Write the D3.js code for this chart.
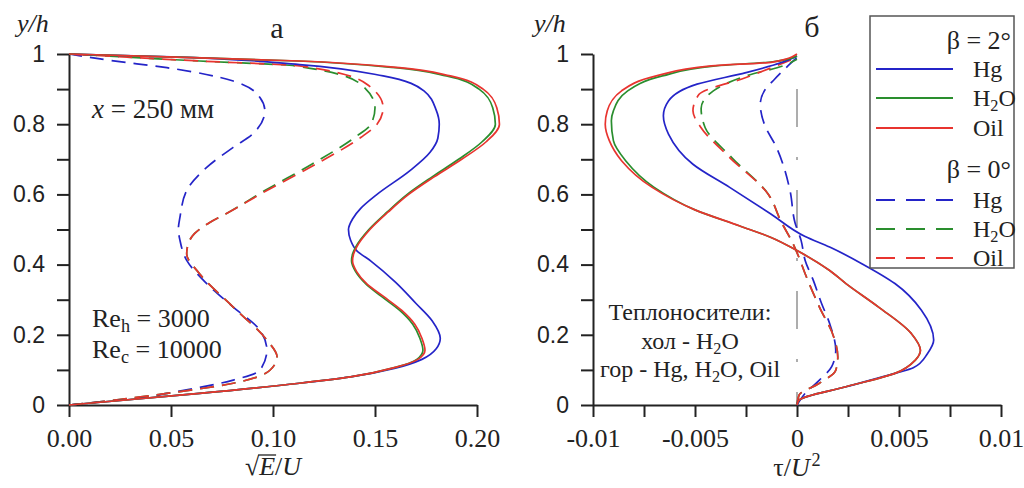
<!DOCTYPE html>
<html>
<head>
<meta charset="utf-8">
<script src="https://cdn.jsdelivr.net/npm/d3@7"></script>
<style>
  body { margin: 0; background: #fff; }
  svg { display: block; }
  .serif { font-family: "Liberation Serif", "Times New Roman", serif; }
  .sans { font-family: "Liberation Sans", Arial, sans-serif; }
</style>
</head>
<body>
<div id="chart"></div>
<script>
// ---- data: [value, y/h] ----
// panel a: sqrt(E)/U
const eHg2 = [[0,0],[0.064,0.033],[0.113,0.062],[0.138,0.080],[0.160,0.105],[0.173,0.13],[0.180,0.16],[0.182,0.19],[0.178,0.24],[0.170,0.29],[0.160,0.35],[0.148,0.41],[0.141,0.44],[0.138,0.47],[0.137,0.50],[0.139,0.53],[0.143,0.56],[0.151,0.60],[0.167,0.667],[0.177,0.72],[0.1808,0.76],[0.1815,0.80],[0.180,0.84],[0.174,0.895],[0.154,0.9375],[0.113,0.97],[0.05,0.992],[0,1]];
const eH2O2 = [[0,0],[0.064,0.033],[0.113,0.062],[0.138,0.080],[0.160,0.107],[0.1705,0.13],[0.1735,0.156],[0.172,0.19],[0.1685,0.23],[0.162,0.27],[0.153,0.31],[0.1455,0.345],[0.1405,0.38],[0.1385,0.41],[0.139,0.43],[0.1405,0.45],[0.147,0.50],[0.156,0.55],[0.1658,0.60],[0.178,0.65],[0.191,0.70],[0.2025,0.75],[0.209,0.80],[0.2077,0.847],[0.201,0.90],[0.185,0.9375],[0.160,0.961],[0.112,0.98],[0.048,0.992],[0,1]];
const eOil2 = [[0,0],[0.064,0.033],[0.113,0.062],[0.138,0.080],[0.160,0.107],[0.171,0.13],[0.1745,0.156],[0.173,0.19],[0.1695,0.23],[0.163,0.27],[0.154,0.31],[0.146,0.345],[0.141,0.38],[0.139,0.41],[0.1395,0.43],[0.141,0.45],[0.1475,0.50],[0.1565,0.55],[0.1665,0.60],[0.179,0.65],[0.1925,0.70],[0.2045,0.75],[0.211,0.80],[0.2097,0.847],[0.203,0.90],[0.187,0.9375],[0.162,0.961],[0.113,0.98],[0.048,0.992],[0,1]];
const eHg0 = [[0,0],[0.015,0.009],[0.035,0.02],[0.048,0.033],[0.0805,0.071],[0.0936,0.099],[0.097,0.156],[0.0936,0.213],[0.0805,0.279],[0.0675,0.346],[0.0577,0.412],[0.0544,0.469],[0.0536,0.50],[0.0544,0.535],[0.0577,0.611],[0.0675,0.677],[0.0805,0.734],[0.090,0.772],[0.096,0.838],[0.0936,0.876],[0.0805,0.923],[0.048,0.961],[0.020,0.982],[0,1]];
const eH2O0 = [[0,0],[0.015,0.009],[0.048,0.033],[0.0805,0.062],[0.0985,0.099],[0.102,0.137],[0.097,0.185],[0.0805,0.279],[0.064,0.374],[0.0577,0.431],[0.0585,0.46],[0.0615,0.488],[0.069,0.52],[0.077,0.545],[0.096,0.611],[0.119,0.686],[0.140,0.762],[0.148,0.80],[0.150,0.847],[0.143,0.914],[0.111,0.966],[0.064,0.98],[0,1]];
const eOil0 = [[0,0],[0.015,0.009],[0.048,0.033],[0.0805,0.062],[0.0985,0.099],[0.102,0.137],[0.097,0.185],[0.0805,0.279],[0.064,0.374],[0.0577,0.431],[0.0585,0.46],[0.0615,0.488],[0.069,0.52],[0.077,0.545],[0.097,0.611],[0.121,0.686],[0.143,0.762],[0.151,0.80],[0.154,0.847],[0.146,0.914],[0.113,0.966],[0.064,0.98],[0,1]];
// panel б: tau/U^2
const tHg2 = [[0,0],[0.0001,0.014],[0.0024,0.052],[0.0048,0.09],[0.0057,0.106],[0.0064,0.147],[0.0067,0.185],[0.0061,0.27],[0.0048,0.346],[0.0032,0.402],[0.0016,0.45],[0.0004,0.48],[-0.0013,0.545],[-0.0033,0.62],[-0.0051,0.686],[-0.0063,0.772],[-0.00655,0.824],[-0.0063,0.866],[-0.0049,0.914],[-0.0025,0.947],[-0.0008,0.975],[0,0.994]];
const tH2O2 = [[0,0],[0.0001,0.014],[0.0024,0.052],[0.0048,0.09],[0.0058,0.128],[0.00605,0.156],[0.0056,0.204],[0.0040,0.279],[0.0024,0.346],[0.0016,0.383],[0,0.44],[-0.0013,0.478],[-0.0028,0.51],[-0.005,0.556],[-0.0070,0.62],[-0.0084,0.696],[-0.0090,0.753],[-0.0091,0.81],[-0.0090,0.838],[-0.0083,0.895],[-0.0066,0.9375],[-0.0040,0.966],[-0.0012,0.978],[0,0.994]];
const tOil2 = [[0,0],[0.0001,0.014],[0.0024,0.052],[0.0048,0.09],[0.0058,0.128],[0.00605,0.156],[0.0056,0.204],[0.0040,0.279],[0.0024,0.346],[0.0016,0.383],[0,0.44],[-0.0013,0.478],[-0.0028,0.51],[-0.005,0.556],[-0.0071,0.62],[-0.0086,0.696],[-0.0092,0.753],[-0.0094,0.80],[-0.0093,0.838],[-0.0086,0.895],[-0.0069,0.9375],[-0.0042,0.966],[-0.0012,0.977],[0,1]];
const tHg0 = [[0,0],[0.0004,0.033],[0.0011,0.071],[0.0017,0.109],[0.0019,0.156],[0.0016,0.232],[0.0012,0.29],[0.0008,0.355],[0.0004,0.412],[0.0002,0.469],[-0.0001,0.52],[-0.00034,0.61],[-0.001,0.733],[-0.0016,0.80],[-0.0018,0.857],[-0.0016,0.895],[-0.0011,0.928],[0,0.99]];
const tH2O0 = [[0,0],[0.0001,0.028],[0.0011,0.062],[0.0019,0.099],[0.0020,0.137],[0.0018,0.194],[0.0011,0.279],[0.0004,0.374],[0.0001,0.42],[-0.0002,0.46],[-0.0008,0.525],[-0.0014,0.60],[-0.0032,0.705],[-0.0045,0.79],[-0.0047,0.845],[-0.0041,0.895],[-0.0025,0.9375],[-0.0007,0.966],[0,0.985]];
const tOil0 = [[0,0],[0.0001,0.028],[0.0011,0.062],[0.0019,0.099],[0.0020,0.137],[0.0018,0.194],[0.0011,0.279],[0.0004,0.374],[0.0001,0.42],[-0.0002,0.46],[-0.0008,0.525],[-0.0014,0.60],[-0.0033,0.705],[-0.0047,0.79],[-0.0051,0.838],[-0.0048,0.885],[-0.0025,0.933],[0,0.99]];

const fluids = ['Hg', 'H2O', 'Oil'];
const colors = ['#2424c8', '#2a8e2e', '#e8342f'];

const yMajor = [0, 0.2, 0.4, 0.6, 0.8, 1];
const yMajorLabels = ['0', '0.2', '0.4', '0.6', '0.8', '1'];
const yMinor = [0.1, 0.3, 0.5, 0.7, 0.9];
const eTicks = [0, 0.05, 0.1, 0.15, 0.2];
const eTickLabels = ['0.00', '0.05', '0.10', '0.15', '0.20'];
const tTicks = [-0.01, -0.0075, -0.005, -0.0025, 0, 0.0025, 0.005, 0.0075, 0.01];
const tTickLabels = ['-0.01', '', '-0.005', '', '0', '', '0.005', '', '0.01'];

// ---- layout ----
const W = 1024, H = 488;
const svg = d3.select('#chart').append('svg').attr('width', W).attr('height', H);

const y = d3.scaleLinear().domain([0, 1]).range([405, 54]);
const xE = d3.scaleLinear().domain([0, 0.2]).range([69, 477]);
const xT = d3.scaleLinear().domain([-0.01, 0.01]).range([593, 1001]);

// axes
function drawAxes(x, xTicks, xFmt, x0) {
  const gx = svg.append('g').attr('transform', `translate(0,${y(0)})`)
    .call(d3.axisBottom(x).tickValues(xTicks).tickFormat((d, i) => xFmt[i])
      .tickSize(12).tickSizeOuter(0).tickPadding(12));
  gx.selectAll('text').attr('class', 'serif').style('font-size', '26px').attr('fill', '#222');
  const gy = svg.append('g').attr('transform', `translate(${x0},0)`)
    .call(d3.axisLeft(y).tickValues(yMajor.concat(yMinor))
      .tickFormat(d => { const i = yMajor.indexOf(d); return i < 0 ? '' : yMajorLabels[i]; })
      .tickSize(12).tickSizeOuter(0).tickPadding(12));
  gy.selectAll('text').attr('class', 'sans').style('font-size', '23px').attr('fill', '#222');
  [gx, gy].forEach(g => {
    g.attr('font-family', null).attr('font-size', null);
    g.select('.domain').attr('stroke', '#222').attr('stroke-width', 2);
    g.selectAll('.tick line').attr('stroke', '#222').attr('stroke-width', 2);
  });
}
drawAxes(xE, eTicks, eTickLabels, xE(0));
drawAxes(xT, tTicks, tTickLabels, xT(-0.01));

// zero line on panel б
svg.append('line')
  .attr('x1', xT(0)).attr('x2', xT(0))
  .attr('y1', y(0.9)).attr('y2', y(0))
  .attr('stroke', '#777').attr('stroke-width', 1.2)
  .attr('stroke-dasharray', '38,30,3,30');

// curves: x is a function of y/h, so interpolate along y
function drawCurves(x, series) {
  const line = d3.line().x(d => x(d[0])).y(d => y(d[1])).curve(d3.curveMonotoneY);
  series.forEach(s => {
    svg.append('path').datum(s.data)
      .attr('d', line)
      .attr('fill', 'none')
      .attr('stroke', s.color)
      .attr('stroke-width', 1.7)
      .attr('stroke-dasharray', s.dash ? '14,8' : null);
  });
}
drawCurves(xE, [
  { data: eHg0, color: colors[0], dash: true },
  { data: eH2O0, color: colors[1], dash: true },
  { data: eOil0, color: colors[2], dash: true },
  { data: eHg2, color: colors[0] },
  { data: eH2O2, color: colors[1] },
  { data: eOil2, color: colors[2] }
]);
drawCurves(xT, [
  { data: tHg0, color: colors[0], dash: true },
  { data: tH2O0, color: colors[1], dash: true },
  { data: tOil0, color: colors[2], dash: true },
  { data: tHg2, color: colors[0] },
  { data: tH2O2, color: colors[1] },
  { data: tOil2, color: colors[2] }
]);

// text helper with subscript 2 in H2O
function fluidText(sel, name) {
  if (name === 'H2O') {
    sel.append('tspan').text('H');
    sel.append('tspan').text('2').style('font-size', '0.68em').attr('dy', '0.28em');
    sel.append('tspan').text('O').attr('dy', '-0.19em');
  } else {
    sel.append('tspan').text(name);
  }
}

// panel labels
svg.append('text').attr('class', 'serif').attr('x', 277).attr('y', 38)
  .attr('text-anchor', 'middle').style('font-size', '30px').attr('fill', '#222').text('а');
svg.append('text').attr('class', 'serif').attr('x', 812).attr('y', 37)
  .attr('text-anchor', 'middle').style('font-size', '30px').attr('fill', '#222').text('б');
[17, 534].forEach(xx => {
  svg.append('text').attr('class', 'serif').attr('x', xx).attr('y', 32)
    .style('font-size', '26px').style('font-style', 'italic').attr('fill', '#222').text('y/h');
});

// annotations panel a
const t1 = svg.append('text').attr('class', 'serif').attr('x', 92).attr('y', 118)
  .style('font-size', '27px').attr('fill', '#222');
t1.append('tspan').style('font-style', 'italic').text('x');
t1.append('tspan').text(' = 250 мм');

function reText(yy, sub, val) {
  const t = svg.append('text').attr('class', 'serif').attr('x', 92).attr('y', yy)
    .style('font-size', '26px').attr('fill', '#222');
  t.append('tspan').text('Re');
  t.append('tspan').text(sub).style('font-size', '0.7em').attr('dy', '0.28em');
  t.append('tspan').text(' = ' + val).attr('dy', '-0.2em');
}
reText(327, 'h', '3000');
reText(358, 'c', '10000');

// annotations panel б
const noteX = 690;
svg.append('text').attr('class', 'serif').attr('x', noteX).attr('y', 320)
  .attr('text-anchor', 'middle').style('font-size', '24px').attr('fill', '#222').text('Теплоносители:');
const n2 = svg.append('text').attr('class', 'serif').attr('x', noteX).attr('y', 349)
  .attr('text-anchor', 'middle').style('font-size', '24px').attr('fill', '#222');
n2.append('tspan').text('хол - ');
fluidText(n2, 'H2O');
const n3 = svg.append('text').attr('class', 'serif').attr('x', noteX).attr('y', 377)
  .attr('text-anchor', 'middle').style('font-size', '24px').attr('fill', '#222');
n3.append('tspan').text('гор - Hg, ');
fluidText(n3, 'H2O');
n3.append('tspan').text(', Oil');

// axis titles
const ax1 = svg.append('text').attr('class', 'serif').attr('x', xE(0.1)).attr('y', 475)
  .attr('text-anchor', 'middle').style('font-size', '26px').attr('fill', '#222');
ax1.append('tspan').text('√');
ax1.append('tspan').style('font-style', 'italic').text('E');
ax1.append('tspan').text('/');
ax1.append('tspan').style('font-style', 'italic').text('U');
const rs = ax1.node().getExtentOfChar(0), re = ax1.node().getExtentOfChar(1);
svg.append('line')
  .attr('x1', rs.x + rs.width - 1).attr('x2', re.x + re.width + 1)
  .attr('y1', rs.y + 3).attr('y2', rs.y + 3)
  .attr('stroke', '#222').attr('stroke-width', 1.3);

const ax2 = svg.append('text').attr('class', 'serif').attr('x', xT(0)).attr('y', 476)
  .attr('text-anchor', 'middle').style('font-size', '26px').attr('fill', '#222');
ax2.append('tspan').text('τ/');
ax2.append('tspan').style('font-style', 'italic').text('U');
ax2.append('tspan').text('2').style('font-size', '0.7em').attr('dy', '-0.55em').attr('dx', '0.1em');

// legend
const lg = svg.append('g');
lg.append('rect').attr('x', 870).attr('y', 16).attr('width', 144).attr('height', 252)
  .attr('fill', '#fff').attr('stroke', '#555').attr('stroke-width', 1.5);
const groups = [
  { title: '2°', ty: 49, rows: [69, 98, 128], dash: false },
  { title: '0°', ty: 178, rows: [200, 229, 258], dash: true }
];
groups.forEach(g => {
  lg.append('text').attr('class', 'serif').attr('x', 1011).attr('y', g.ty)
    .attr('text-anchor', 'end').style('font-size', '26px').attr('fill', '#222')
    .text('β = ' + g.title);
  g.rows.forEach((ry, i) => {
    lg.append('line').attr('x1', 876).attr('x2', 953).attr('y1', ry).attr('y2', ry)
      .attr('stroke', colors[i]).attr('stroke-width', 1.8)
      .attr('stroke-dasharray', g.dash ? '19,11' : null);
    const t = lg.append('text').attr('class', 'serif').attr('x', 973).attr('y', ry + 8)
      .style('font-size', '24px').attr('fill', '#222');
    fluidText(t, fluids[i]);
  });
});
</script>
</body>
</html>
